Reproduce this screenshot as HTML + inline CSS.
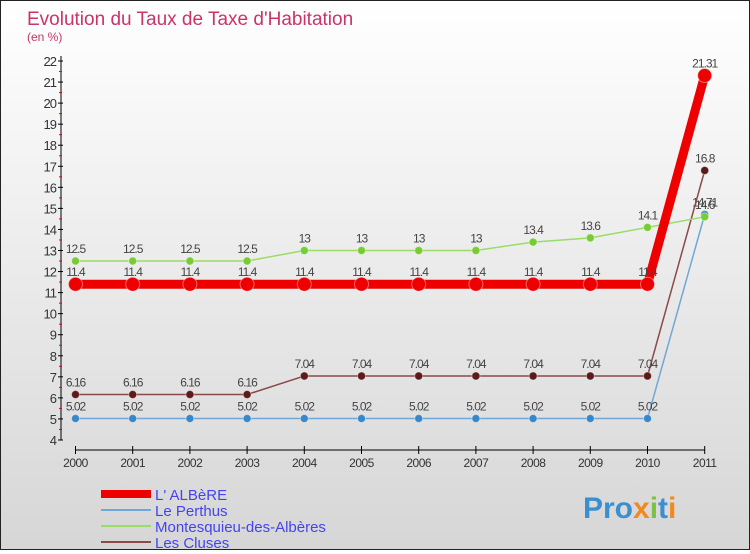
<!DOCTYPE html>
<html><head><meta charset="utf-8"><style>
body{margin:0;width:750px;height:550px;overflow:hidden;font-family:"Liberation Sans","DejaVu Sans",sans-serif}
#wrap{position:relative;width:748px;height:548px;border:1px solid #222;background:linear-gradient(#ffffff,#d6d6d6)}
</style></head><body>
<div id="wrap">
<svg id="chart" width="748" height="548" xmlns="http://www.w3.org/2000/svg">
<text x="26" y="24" font-size="19" fill="#cc3366">Evolution du Taux de Taxe d'Habitation</text>
<text x="26" y="40" font-size="12" fill="#cc3366">(en %)</text>
<g id="axes"></g><g id="series"></g><g id="legend"></g>
<text x="582" y="517" font-size="30" font-weight="bold" fill="#3a8fd0">Pro<tspan fill="#f08a1e">x</tspan><tspan fill="#7cc242">i</tspan>t<tspan fill="#f08a1e">i</tspan></text>
</svg>
</div>
<script>
const years=["2000","2001","2002","2003","2004","2005","2006","2007","2008","2009","2010","2011"];
const albere=[11.4,11.4,11.4,11.4,11.4,11.4,11.4,11.4,11.4,11.4,11.4,21.31];
const perthus=[5.02,5.02,5.02,5.02,5.02,5.02,5.02,5.02,5.02,5.02,5.02,14.71];
const montesquieu=[12.5,12.5,12.5,12.5,13,13,13,13,13.4,13.6,14.1,14.6];
const cluses=[6.16,6.16,6.16,6.16,7.04,7.04,7.04,7.04,7.04,7.04,7.04,16.8];
const yTicks=[4,5,6,7,8,9,10,11,12,13,14,15,16,17,18,19,20,21,22];
const NS="http://www.w3.org/2000/svg";
const yMin=4,yMax=22,yTop=60,yBot=439;
function Y(v){return yBot-(v-yMin)/(yMax-yMin)*(yBot-yTop);}
function X(i){return 74.5+i*57.2;}
function mk(p,tag,a){const e=document.createElementNS(NS,tag);for(const k in a)e.setAttribute(k,a[k]);p.appendChild(e);return e;}
const ax=document.getElementById('axes');
let l=mk(ax,'line',{x1:60,y1:yTop-5,x2:60,y2:yBot,stroke:'#000'});


yTicks.forEach(v=>{
 mk(ax,'line',{x1:57,y1:Y(v),x2:62,y2:Y(v),stroke:'#000'});
 if(v<yMax)mk(ax,'line',{x1:58,y1:Y(v+0.5),x2:61,y2:Y(v+0.5),stroke:'#e00'});
 const t=mk(ax,'text',{x:55,y:Y(v)+5,'font-size':13,'text-anchor':'end',fill:'#333','letter-spacing':'-1'});
 t.textContent=v;
 
 
});
l=mk(ax,'line',{x1:X(0),y1:449,x2:X(11),y2:449,stroke:'#000'});


years.forEach((y,i)=>{
 mk(ax,'line',{x1:X(i),y1:445,x2:X(i),y2:453,stroke:'#000'});
 const t=mk(ax,'text',{x:X(i),y:466,'font-size':12,'text-anchor':'middle',fill:'#333','letter-spacing':'-0.5'});
 t.textContent=y;
 
 
});
const sg=document.getElementById('series');
const defs=[
 {d:perthus,c:'#6fa8d6',dot:'#3a87c8',w:1.5,r:4,name:'le-perthus'},
 {d:cluses,c:'#8a4a4a',dot:'#5c1a1a',w:1.5,r:4,name:'les-cluses'},
 {d:montesquieu,c:'#99dd66',dot:'#77cc33',w:1.5,r:4,name:'montesquieu'},
 {d:albere,c:'#ee0000',dot:'#ee0000',w:9,r:7,name:'albere'}];
defs.forEach(s=>{
 const g=mk(sg,'g',{});
 
 
 const p=mk(g,'polyline',{points:s.d.map((v,i)=>X(i)+','+Y(v)).join(' '),fill:'none',stroke:s.c,'stroke-width':s.w});
 
 
 s.d.forEach((v,i)=>{
  const c=mk(g,'circle',{cx:X(i),cy:Y(v),r:s.r,fill:s.dot,stroke:'#fff','stroke-opacity':0.4});
  
  
  const t=mk(g,'text',{x:X(i),y:Y(v)-8,'font-size':12,'text-anchor':'middle',fill:'#444','letter-spacing':'-1'});
  t.textContent=v;
  
  
 });
});
const lg=document.getElementById('legend');
const leg=[["L' ALBèRE",'#ee0000',8],["Le Perthus",'#6fa8d6',2],["Montesquieu-des-Albères",'#99dd66',2],["Les Cluses",'#8a4a4a',2]];
leg.forEach((e,i)=>{
 const y=493+i*16;
 const g=mk(lg,'g',{});
 
 
 mk(g,'line',{x1:100,y1:y,x2:150,y2:y,stroke:e[1],'stroke-width':e[2]});
 const t=mk(g,'text',{x:154,y:y+6,'font-size':15,fill:'#4444ee'});
 t.textContent=e[0];
});
</script>
</body></html>
